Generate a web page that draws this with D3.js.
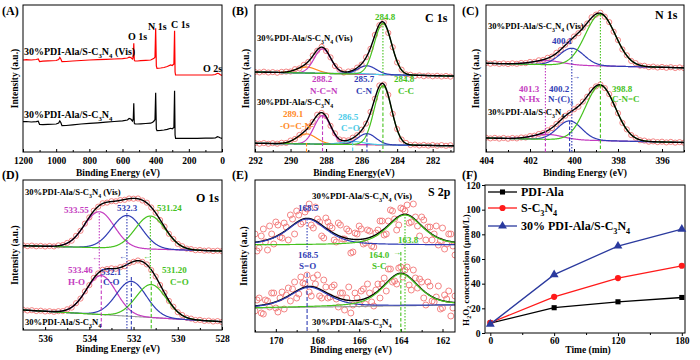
<!DOCTYPE html>
<html><head><meta charset="utf-8">
<script src="https://cdn.jsdelivr.net/npm/d3@7/dist/d3.min.js"></script>
<style>html,body{margin:0;padding:0;background:#fff}</style>
</head><body>
<svg id="fig" width="700" height="360" xmlns="http://www.w3.org/2000/svg"></svg>
<script>
// ================= DATA =================
// (A) survey spectra: [binding energy eV, intensity a.u.]
const surveyVis = [[1200,92],[1180,92.3],[1150,92],[1120,92.5],[1108,93],[1100,90.5],[1080,90.8],[1050,91.2],[1000,91.5],[985,92.5],[978,94.5],[972,93],[965,90.3],[940,90.5],[900,91],[850,91.5],[800,92],[750,92.3],[700,92.6],[650,93],[600,93.4],[570,94],[560,94.8],[550,94.5],[540,93],[535,95],[532,108.7],[529,92],[525,91],[510,91],[490,91.3],[460,91.6],[430,92],[418,93],[410,93.7],[404,95],[400,123.7],[396,86],[392,83.7],[370,84],[350,84.5],[330,85.5],[310,87],[300,86.5],[290,88],[286,121.3],[283,80],[280,77],[250,77],[200,77],[150,77],[100,77],[60,77],[40,77.5],[28,78.7],[20,78.5],[12,77.5],[0,76.5]];
const surveyPristine = [[1200,30.3],[1180,30.5],[1150,30],[1120,30.3],[1108,30.8],[1100,27.5],[1080,27.3],[1050,27.6],[1000,28],[985,29],[978,31],[972,29.5],[965,26.3],[940,26.5],[900,27.2],[850,28],[800,28.6],[750,29.2],[700,29.8],[650,30.5],[600,31.2],[570,32],[560,33.5],[550,33],[540,31],[535,33],[532,48.7],[529,29],[525,28.2],[510,28],[490,28.2],[460,28.5],[430,28.8],[418,29.8],[410,31],[404,32.5],[400,59.3],[396,23],[392,21.3],[370,21.6],[350,22],[330,22.6],[310,23.7],[300,23.2],[290,24.5],[286,61.3],[283,17],[280,13.7],[250,13.7],[200,13.7],[150,13.7],[100,13.8],[60,13.8],[40,14],[28,15.3],[20,15],[12,14.2],[0,13.5]];

// (B) C 1s
const c1sVisData = [[292,80.0],[291.75,79.6],[291.5,80.3],[291.25,79.5],[291,79.9],[290.75,79.3],[290.5,80.1],[290.25,80.4],[290,80.5],[289.75,82.8],[289.5,83.6],[289.25,87.2],[289,90.0],[288.75,96.5],[288.5,101.3],[288.25,105.2],[288,101.0],[287.75,94.6],[287.5,86.0],[287.25,82.3],[287,79.4],[286.75,80.5],[286.5,81.0],[286.25,84.4],[286,87.4],[285.75,94.8],[285.5,103.2],[285.25,117.1],[285,126.8],[284.75,129.8],[284.5,119.1],[284.25,104.8],[284,89.5],[283.75,82.3],[283.5,77.6],[283.25,77.2],[283,76.0],[282.75,76.6],[282.5,75.8],[282.25,76.4],[282,75.7],[281.75,76.2],[281.5,75.5],[281.25,76.0],[281,75.4]];
const c1sData = [[292,8.9],[291.75,8.3],[291.5,8.9],[291.25,8.2],[291,8.8],[290.75,8.3],[290.5,9.2],[290.25,9.1],[290,11.4],[289.75,13.0],[289.5,17.0],[289.25,19.6],[289,24.9],[288.75,30.1],[288.5,37.3],[288.25,39.0],[288,35.9],[287.75,26.2],[287.5,18.6],[287.25,12.6],[287,11.8],[286.75,11.6],[286.5,14.3],[286.25,16.8],[286,22.3],[285.75,28.4],[285.5,40.1],[285.25,53.3],[285,66.5],[284.75,67.5],[284.5,57.2],[284.25,38.2],[284,22.9],[283.75,12.5],[283.5,9.1],[283.25,7.0],[283,7.4],[282.75,6.5],[282.5,7.1],[282.25,6.4],[282,7.0],[281.75,6.3],[281.5,6.9],[281.25,6.2],[281,6.7]];
const c1sCenters = [289.1, 288.2, 286.5, 285.7, 284.8];
const c1sFwhm = [1.3, 1.1, 1.5, 1.2, 1.15];
const c1sVisHeights = [6, 24.5, 1, 8.5, 51];
const c1sHeights = [10, 28.5, 3, 11, 59];
const c1sVisBase = [[292,80],[281,76]];
const c1sBase = [[292,8.7],[281,6.3]];

// (C) N 1s
const n1sVisData = [[404,88.9],[403.8,88.3],[403.6,88.8],[403.4,88.1],[403.2,88.6],[403,88.0],[402.8,88.7],[402.6,88.2],[402.4,89.0],[402.2,88.9],[402,90.1],[401.8,90.0],[401.6,91.7],[401.4,92.0],[401.2,94.2],[401,95.4],[400.8,99.2],[400.6,102.1],[400.4,107.3],[400.2,110.6],[400,115.5],[399.8,118.8],[399.6,124.3],[399.4,128.5],[399.2,134.7],[399,137.4],[398.8,139.2],[398.6,135.3],[398.4,129.9],[398.2,120.3],[398,111.9],[397.8,102.6],[397.6,96.7],[397.4,91.1],[397.2,88.9],[397,86.3],[396.8,86.2],[396.6,84.9],[396.4,85.4],[396.2,84.5],[396,85.0],[395.8,84.2],[395.6,84.8],[395.4,84.0],[395.2,84.6],[395,83.9]];
const n1sData = [[404,14.3],[403.8,13.6],[403.6,14.1],[403.4,13.4],[403.2,14.0],[403,13.3],[402.8,14.0],[402.6,13.6],[402.4,14.5],[402.2,14.5],[402,15.9],[401.8,16.3],[401.6,18.0],[401.4,19.0],[401.2,21.7],[401,23.9],[400.8,28.1],[400.6,31.6],[400.4,36.2],[400.2,39.0],[400,42.7],[399.8,45.3],[399.6,50.4],[399.4,55.3],[399.2,62.0],[399,65.6],[398.8,67.5],[398.6,63.9],[398.4,57.9],[398.2,47.9],[398,38.8],[397.8,29.1],[397.6,22.6],[397.4,16.9],[397.2,14.3],[397,11.8],[396.8,11.4],[396.6,10.3],[396.4,10.6],[396.2,9.9],[396,10.3],[395.8,9.6],[395.6,10.1],[395.4,9.4],[395.2,9.9],[395,9.3]];
const n1sVisCenters = [401.2, 400.1, 398.8];
const n1sCenters = [401.2, 400.2, 398.8];
const n1sFwhm = [1.6, 1.3, 1.6];
const n1sVisHeights = [4, 17, 51.6];
const n1sHeights = [5, 19, 55];
const n1sVisBase = [[404,88.7],[395,84.2]];
const n1sBase = [[404,14],[395,9.5]];

// (D) O 1s
const o1sVisData = [[537,84.6],[536.8,83.9],[536.6,84.4],[536.4,83.7],[536.2,84.1],[536,83.5],[535.8,84.0],[535.6,83.6],[535.4,84.6],[535.2,84.9],[535,87.1],[534.8,89.3],[534.6,94.2],[534.4,99.2],[534.2,106.4],[534,112.6],[533.8,119.3],[533.6,123.3],[533.4,126.7],[533.2,127.4],[533,128.8],[532.8,128.7],[532.6,129.9],[532.4,130.2],[532.2,131.5],[532,131.3],[531.8,131.5],[531.6,129.5],[531.4,127.3],[531.2,122.5],[531,117.3],[530.8,110.0],[530.6,103.4],[530.4,96.2],[530.2,91.0],[530,86.1],[529.8,83.8],[529.6,81.4],[529.4,80.9],[529.2,79.8],[529,80.0],[528.8,79.3],[528.6,79.6],[528.4,78.9],[528.2,79.3],[528,78.8]];
const o1sData = [[537,20.3],[536.8,19.5],[536.6,19.8],[536.4,19.0],[536.2,19.3],[536,18.5],[535.8,18.8],[535.6,18.2],[535.4,18.8],[535.2,18.9],[535,20.7],[534.8,22.4],[534.6,26.8],[534.4,31.4],[534.2,38.6],[534,44.9],[533.8,52.1],[533.6,56.6],[533.4,60.2],[533.2,60.9],[533,61.7],[532.8,61.2],[532.6,62.8],[532.4,63.8],[532.2,66.9],[532,68.2],[531.8,69.5],[531.6,68.1],[531.4,65.6],[531.2,59.9],[531,53.5],[530.8,45.0],[530.6,37.3],[530.4,29.1],[530.2,23.3],[530,17.8],[529.8,15.0],[529.6,12.2],[529.4,11.4],[529.2,10.0],[529,10.1],[528.8,9.1],[528.6,9.4],[528.4,8.5],[528.2,8.9],[528,8.0]];
const o1sVisCenters = [533.55, 532.3, 531.24];
const o1sCenters = [533.46, 532.1, 531.2];
const o1sFwhm = [1.6, 1.6, 1.6];
const o1sVisHeights = [36, 33, 33];
const o1sHeights = [39, 35, 33];
const o1sVisBase = [[537,84.3],[528,79]];
const o1sBase = [[537,20],[528,8.3]];

// (E) S 2p  (noisy raw data)
const s2pVisData = [[171,98],[170.8,84],[170.6,103],[170.4,82],[170.2,98],[170,110],[169.8,95],[169.6,109],[169.4,92],[169.2,113],[169,121],[168.8,108],[168.6,120],[168.4,128],[168.2,104],[168,113],[167.8,96],[167.6,114],[167.4,106],[167.2,92],[167,109],[166.8,93],[166.6,103],[166.4,79],[166.2,99],[166,106],[165.8,88],[165.6,102],[165.4,86],[165.2,99],[165,111],[164.8,97],[164.6,111],[164.4,121],[164.2,102],[164,124],[163.8,121],[163.6,109],[163.4,128],[163.2,106],[163,115],[162.8,92],[162.6,105],[162.4,98],[162.2,87],[162,104],[161.8,88],[161.6,98],[161.4,77],
  [170.9,81],[170.7,96],[170.5,90],[170.3,106],[170.1,88],[169.9,107],[169.7,94],[169.5,105],[169.3,117],[169.1,98],[168.9,117],[168.7,110],[168.5,123],[168.3,107],[168.1,125],[167.9,110],[167.7,94],[167.5,110],[167.3,104],[167.1,90],[166.9,107],[166.7,93],[166.5,101],[166.3,80],[166.1,98],[165.9,103],[165.7,89],[165.5,101],[165.3,85],[165.1,102],[164.9,111],[164.7,98],[164.5,122],[164.3,113],[164.1,107],[163.9,123],[163.7,127],[163.5,110],[163.3,115],[163.1,96],[162.9,112],[162.7,105],[162.5,92],[162.3,106],[162.1,91],[161.9,83],[161.7,98],[161.5,86]];
const s2pData = [[171,21],[170.8,34],[170.6,18],[170.4,31],[170.2,39],[170,24],[169.8,34],[169.6,23],[169.4,44],[169.2,43],[169,34],[168.8,55],[168.6,48],[168.4,40],[168.2,54],[168,57],[167.8,34],[167.6,45],[167.4,35],[167.2,47],[167,25],[166.8,39],[166.6,34],[166.4,19],[166.2,39],[166,28],[165.8,43],[165.6,48],[165.4,30],[165.2,42],[165,34],[164.8,54],[164.6,63],[164.4,50],[164.2,48],[164,65],[163.8,62],[163.6,47],[163.4,62],[163.2,44],[163,50],[162.8,27],[162.6,46],[162.4,30],[162.2,46],[162,24],[161.8,33],[161.6,16],[161.4,36],
  [170.9,32],[170.7,19],[170.5,32],[170.3,25],[170.1,39],[169.9,20],[169.7,40],[169.5,37],[169.3,31],[169.1,50],[168.9,38],[168.7,49],[168.5,57],[168.3,36],[168.1,48],[167.9,36],[167.7,52],[167.5,34],[167.3,45],[167.1,33],[166.9,39],[166.7,22],[166.5,45],[166.3,27],[166.1,34],[165.9,41],[165.7,28],[165.5,39],[165.3,26],[165.1,48],[164.9,48],[164.7,41],[164.5,63],[164.3,51],[164.1,64],[163.9,55],[163.7,65],[163.5,42],[163.3,54],[163.1,53],[162.9,34],[162.7,50],[162.5,31],[162.3,35],[162.1,23],[161.9,37],[161.7,41],[161.5,24]];
const s2pVisCenters = [168.5, 163.8];
const s2pCenters = [168.4, 164.0];
const s2pFwhm = [2.2, 2.0];
const s2pVisHeights = [26, 30];
const s2pHeights = [20, 32];
const s2pVisBase = [[171,87],[161.4,87]];
const s2pBase = [[171,24],[161.4,27]];

// (F) H2O2 production
const timeMin = [0, 60, 120, 180];
const h2o2PDI = [8, 20.5, 25.3, 28.8];
const h2o2SCN = [8.3, 29.3, 44.5, 54.5];
const h2o2Comp = [7.2, 47.3, 70.5, 84.2];
const seriesNames = ["PDI-Ala", "S-C{3}N{4}", "30% PDI-Ala/S-C{3}N{4}"];
const fTicksY = [0, 20, 40, 60, 80, 100, 120];
const fTicksX = [0, 60, 120, 180];
const sampleVis = "30%PDI-Ala/S-C{3}N{4} (Vis)";
const samplePristine = "30%PDI-Ala/S-C{3}N{4}";

// ================= DRAWING =================
const svg = d3.select("#fig");
svg.append("rect").attr("width",700).attr("height",360).attr("fill","#fff");
const FF = '"Liberation Serif","Times New Roman",Times,serif';
const MAG="#c43cc0", BLU="#2f3cb4", GRN="#46c21e", ORG="#ff8a1f", CYN="#4ccbe8", CIRC="#f27777";
const defs = svg.append("defs");

function rich(parent, x, y, str, o){
  o = o || {};
  const size = o.size || 9;
  const t = parent.append("text").attr("x",x).attr("y",y).attr("font-family",FF).attr("font-weight","bold")
    .attr("font-size",size).attr("fill",o.color||"#000").attr("text-anchor",o.anchor||"start");
  if (o.rotate) t.attr("transform",`rotate(-90,${x},${y})`);
  const parts = str.split(/(\{[^}]*\})/).filter(s=>s.length>0);
  let down = false;
  parts.forEach(p=>{
    const ts = t.append("tspan");
    if (p[0]==="{") { ts.text(p.slice(1,-1)).attr("font-size",size*0.68).attr("dy",down?0:size*0.3); down=true; }
    else { ts.text(p); if (down) { ts.attr("dy",-size*0.3); down=false; } }
  });
  return t;
}

function makePanel(P){
  const x = d3.scaleLinear().domain(P.xdom).range([P.l,P.r]);
  const y = d3.scaleLinear().domain([0,P.b-P.t]).range([P.b,P.t]);
  const cid = "clip"+P.key;
  defs.append("clipPath").attr("id",cid).append("rect").attr("x",P.l).attr("y",P.t).attr("width",P.r-P.l).attr("height",P.b-P.t);
  const root = svg.append("g");
  const plot = root.append("g").attr("clip-path",`url(#${cid})`);
  const axG = root.append("g").attr("transform",`translate(0,${P.b})`)
    .call(d3.axisBottom(x).tickValues(P.major).tickSize(-3).tickPadding(5).tickFormat(d3.format("d")));
  const axM = root.append("g").attr("transform",`translate(0,${P.b})`)
    .call(d3.axisBottom(x).tickValues(P.minor).tickSize(-2).tickFormat(""));
  [axG,axM].forEach(a=>{ a.select(".domain").remove(); a.selectAll("line").attr("stroke","#000"); });
  axG.selectAll("text").attr("font-family",FF).attr("font-weight","bold").attr("font-size",9.5).attr("fill","#000");
  root.append("rect").attr("x",P.l).attr("y",P.t).attr("width",P.r-P.l).attr("height",P.b-P.t)
    .attr("fill","none").attr("stroke","#000").attr("stroke-width",1);
  rich(root, P.xtX, P.xtY, P.xtitle, {size:9.5, anchor:"middle"});
  rich(root, P.ytX, (P.t+P.b)/2, "Intensity (a.u.)", {size:9.5, anchor:"middle", rotate:true});
  rich(root, P.lx, P.ly, P.letter, {size:12});
  return {x, y, plot, root};
}

function pv(v,c,w,h,eta){ const t=(v-c)/w; return h*((1-eta)*Math.exp(-4*Math.LN2*t*t)+eta/(1+4*t*t)); }

function drawSpec(ctx, data, centers, fwhm, heights, baseP, o){
  const {x,y,plot} = ctx;
  const b0=baseP[0], b1=baseP[1];
  const base = v => b0[1]+(v-b0[0])*(b1[1]-b0[1])/(b1[0]-b0[0]);
  const dom = x.domain(), lo=Math.min(dom[0],dom[1]), hi=Math.max(dom[0],dom[1]);
  const grid = d3.range(lo, hi+1e-9, (hi-lo)/600);
  const ln = f => d3.line().x(v=>x(v)).y(v=>y(f(v)))(grid);
  plot.append("g").selectAll("circle").data(data).join("circle")
    .attr("cx",d=>x(d[0])).attr("cy",d=>y(d[1])).attr("r",o.r)
    .attr("fill","none").attr("stroke",CIRC).attr("stroke-width",0.9);
  if (o.baseColor) plot.append("path").attr("d",ln(base)).attr("fill","none").attr("stroke",o.baseColor).attr("stroke-width",1.1);
  const env = v => base(v)+d3.sum(centers,(c,i)=>pv(v,c,fwhm[i],heights[i],o.eta));
  const drawEnv = () => plot.append("path").attr("d",ln(env)).attr("fill","none").attr("stroke","#000").attr("stroke-width",1.4);
  if (o.envFirst) drawEnv();
  centers.forEach((c,i)=>{
    plot.append("path").attr("d",ln(v=>base(v)+pv(v,c,fwhm[i],heights[i],o.eta)))
      .attr("fill","none").attr("stroke",o.colors[i]).attr("stroke-width",1.2);
  });
  if (!o.envFirst) drawEnv();
}

function guides(ctx, list){
  list.forEach(([e,h1,h2,col,dash])=>{
    ctx.root.append("line").attr("x1",ctx.x(e)).attr("x2",ctx.x(e)).attr("y1",ctx.y(h1)).attr("y2",ctx.y(h2))
      .attr("stroke",col).attr("stroke-width",1.1).attr("stroke-dasharray",dash);
  });
}
function texts(ctx, list){
  list.forEach(([s,x,y,col,size])=>rich(ctx.root,x,y,s,{color:col,size:size}));
}
const DOT="1.5,1.5", DASH="3.5,2";

// ---------- (A) ----------
const A = makePanel({key:"A",l:23,r:222,t:5,b:152,xdom:[1200,0],major:[1200,1000,800,600,400,200,0],minor:[1100,900,700,500,300,100],
  xtitle:"Binding Energy (eV)",xtX:118,xtY:176,ytX:17.5,letter:"(A)",lx:2,ly:15});
const survLine = d3.line().x(d=>A.x(d[0])).y(d=>A.y(d[1]));
A.plot.append("path").attr("d",survLine(surveyVis)).attr("fill","none").attr("stroke","#ff0000").attr("stroke-width",1.2);
A.plot.append("path").attr("d",survLine(surveyPristine)).attr("fill","none").attr("stroke","#000").attr("stroke-width",1.2);
texts(A, [[sampleVis,24,55,"#000",10],[samplePristine,24,118,"#000",10],
  ["O 1s",128,40,"#000",10],["N 1s",148,30,"#000",10],["C 1s",171,28,"#000",10],["O 2s",203,72,"#000",10]]);

// ---------- (B) ----------
const B = makePanel({key:"B",l:255,r:454,t:5,b:152,xdom:[292,280.8],major:[292,290,288,286,284,282],minor:[291,289,287,285,283,281],
  xtitle:"Binding Energy(eV)",xtX:354,xtY:176,ytX:248.5,letter:"(B)",lx:232,ly:15});
const cB = [ORG,MAG,CYN,BLU,GRN];
drawSpec(B, c1sVisData, c1sCenters, c1sFwhm, c1sVisHeights, c1sVisBase, {r:2.6,eta:0,colors:cB});
drawSpec(B, c1sData, c1sCenters, c1sFwhm, c1sHeights, c1sBase, {r:2.6,eta:0,colors:cB});
guides(B, [[284.8,129,76.5,GRN,DOT],[289.1,9,0,ORG,DASH],[288.2,37,0,MAG,DASH],[286.5,10,0,CYN,DASH],[285.7,19,0,BLU,DASH],[284.8,67,0,GRN,DASH]]);
texts(B, [["C 1s",425,22,"#000",12],["284.8",375,20,GRN,9],[sampleVis,257,41,"#000",8.6],
  ["288.2",312,82,MAG,9],["N-C=N",310,94,MAG,9],["285.7",354,82,BLU,9],["C-N",356,94,BLU,9],
  ["284.8",394,82,GRN,9],["C-C",398,94,GRN,9],[samplePristine,257,105,"#000",8.6],
  ["289.1",283,117,ORG,9],["-O=C-N-",280,129,ORG,9],["286.5",338,120,CYN,9],["C=O",341,131,CYN,9]]);

// ---------- (C) ----------
const C = makePanel({key:"C",l:486,r:684,t:5,b:152,xdom:[404,395],major:[404,402,400,398,396],minor:[403,401,399,397,395],
  xtitle:"Binding Energy (eV)",xtX:585,xtY:176,ytX:479,letter:"(C)",lx:462,ly:15});
const cC = [MAG,BLU,GRN];
drawSpec(C, n1sVisData, n1sVisCenters, n1sFwhm, n1sVisHeights, n1sVisBase, {r:2.6,eta:0,colors:cC});
drawSpec(C, n1sData, n1sCenters, n1sFwhm, n1sHeights, n1sBase, {r:2.6,eta:0,colors:cC});
guides(C, [[398.8,137,67,GRN,DOT],[398.8,67,0,GRN,DASH],[400.1,104,0,BLU,DOT],[400.2,31,0,BLU,DASH],[401.3,87,20,MAG,DOT],[401.3,20,0,MAG,DASH]]);
texts(C, [["N 1s",655,19,"#000",12],[sampleVis,488,29,"#000",8.6],["400.1",552,44,BLU,9],
  ["401.3",519,92,MAG,9],["N-Hx",519,102,MAG,9],["400.2",549,92,BLU,9],["N-(C){3}",548,102,BLU,9],
  ["398.8",612,92,GRN,9],["C-N=C",612,102,GRN,9],[samplePristine,488,115,"#000",8.6],["→",572,79,BLU,8]]);

// ---------- (D) ----------
const D = makePanel({key:"D",l:23,r:222,t:180,b:330,xdom:[537,528],major:[536,534,532,530,528],minor:[537,535,533,531,529],
  xtitle:"Binding Energy (eV)",xtX:118,xtY:352,ytX:17.5,letter:"(D)",lx:2,ly:179});
const cD = [MAG,BLU,GRN];
drawSpec(D, o1sVisData, o1sVisCenters, o1sFwhm, o1sVisHeights, o1sVisBase, {r:2.6,eta:0,colors:cD});
drawSpec(D, o1sData, o1sCenters, o1sFwhm, o1sHeights, o1sBase, {r:2.6,eta:0,colors:cD,baseColor:"#999"});
guides(D, [[533.55,117,60,MAG,DOT],[533.46,56,0,MAG,DASH],[532.3,117,0,BLU,DOT],[532.1,53,0,BLU,DASH],[531.24,113,50,GRN,DOT],[531.2,49,0,GRN,DASH]]);
texts(D, [["O 1s",196,202,"#000",12],[sampleVis,25,195,"#000",8.6],
  ["533.55",64,213,MAG,9],["532.3",117,211,BLU,9],["531.24",157,211,GRN,9],
  ["533.46",68,273,MAG,9],["H-O",68,285,MAG,9],["532.1",101,275,BLU,9],["C-O",103,285,BLU,9],
  ["531.20",162,273,GRN,9],["C=O",170,285,GRN,9],[samplePristine,25,325,"#000",8.6],
  ["←",92,260,MAG,8],["←",119,259,BLU,8],["←",143,259,GRN,8]]);

// ---------- (E) ----------
const E = makePanel({key:"E",l:255,r:455,t:180,b:332,xdom:[171,161.4],major:[170,168,166,164,162],minor:[171,169,167,165,163],
  xtitle:"Binding energy (eV)",xtX:351,xtY:353,ytX:247,letter:"(E)",lx:232,ly:179});
const cE = [BLU,GRN];
drawSpec(E, s2pVisData, s2pVisCenters, s2pFwhm, s2pVisHeights, s2pVisBase, {r:3,eta:0.5,colors:cE,envFirst:true});
drawSpec(E, s2pData, s2pCenters, s2pFwhm, s2pHeights, s2pBase, {r:3,eta:0.5,colors:cE,envFirst:true,baseColor:"#999"});
guides(E, [[168.5,113,82,BLU,DOT],[168.5,59,0,BLU,"4,2"],[163.8,118,0,GRN,DOT],[164.0,80,0,GRN,DASH]]);
texts(E, [["S 2p",428,196,"#000",12],[sampleVis,312,199,"#000",9],["168.5",298,211,BLU,9],["163.8",398,243,GRN,9],
  ["168.5",298,258,BLU,9],["S=O",299,269,BLU,9],["164.0",369,258,GRN,9],["S-C",372,269,GRN,9],
  ["→",393,255,GRN,8],[samplePristine,312,325,"#000",9]]);

// ---------- (F) ----------
const Fp = {l:485,r:685,t:185,b:333};
const xF = d3.scaleLinear().domain([-5,183]).range([Fp.l,Fp.r]);
const yF = d3.scaleLinear().domain([0,120]).range([Fp.b,Fp.t]);
const gF = svg.append("g");
const axL = gF.append("g").attr("transform",`translate(${Fp.l},0)`).call(d3.axisLeft(yF).tickValues(fTicksY).tickSize(3).tickPadding(1.5));
const axB = gF.append("g").attr("transform",`translate(0,${Fp.b})`).call(d3.axisBottom(xF).tickValues(fTicksX).tickSize(3).tickPadding(1.5));
const axBm = gF.append("g").attr("transform",`translate(0,${Fp.b})`).call(d3.axisBottom(xF).tickValues([30,90,150]).tickSize(2).tickFormat(""));
[axL,axB,axBm].forEach(a=>{ a.select(".domain").remove(); a.selectAll("line").attr("stroke","#000"); });
[axL,axB].forEach(a=>a.selectAll("text").attr("font-family",FF).attr("font-weight","bold").attr("font-size",9.5).attr("fill","#000"));
gF.append("rect").attr("x",Fp.l).attr("y",Fp.t).attr("width",Fp.r-Fp.l).attr("height",Fp.b-Fp.t).attr("fill","none").attr("stroke","#000");
const fSeries = [
  {vals:h2o2PDI, color:"#000000", sym:d3.symbolSquare, size:26},
  {vals:h2o2SCN, color:"#ff1a1a", sym:d3.symbolCircle, size:30},
  {vals:h2o2Comp, color:"#2b3a9e", sym:d3.symbolTriangle, size:34}
];
const fLine = d3.line().x((d,i)=>xF(timeMin[i])).y(d=>yF(d));
fSeries.forEach(s=>{
  gF.append("path").attr("d",fLine(s.vals)).attr("fill","none").attr("stroke",s.color).attr("stroke-width",1.3);
  gF.append("g").selectAll("path").data(s.vals).join("path")
    .attr("d",d3.symbol(s.sym,s.size)).attr("transform",(d,i)=>`translate(${xF(timeMin[i])},${yF(d)})`).attr("fill",s.color);
});
const legY = [192, 208, 226];
fSeries.forEach((s,i)=>{
  gF.append("line").attr("x1",488).attr("x2",517).attr("y1",legY[i]).attr("y2",legY[i]).attr("stroke",s.color).attr("stroke-width",1.3);
  gF.append("path").attr("d",d3.symbol(s.sym,s.size)).attr("transform",`translate(502.5,${legY[i]})`).attr("fill",s.color);
  rich(gF, 521, legY[i]+4, seriesNames[i], {size:12});
});
rich(gF, 588, 353, "Time (min)", {size:9.5, anchor:"middle"});
rich(gF, 468.5, 270, "H{2}O{2} concentration (μmol/L)", {size:9, anchor:"middle", rotate:true});
rich(gF, 462, 179, "(F)", {size:12});
</script>
</body></html>
